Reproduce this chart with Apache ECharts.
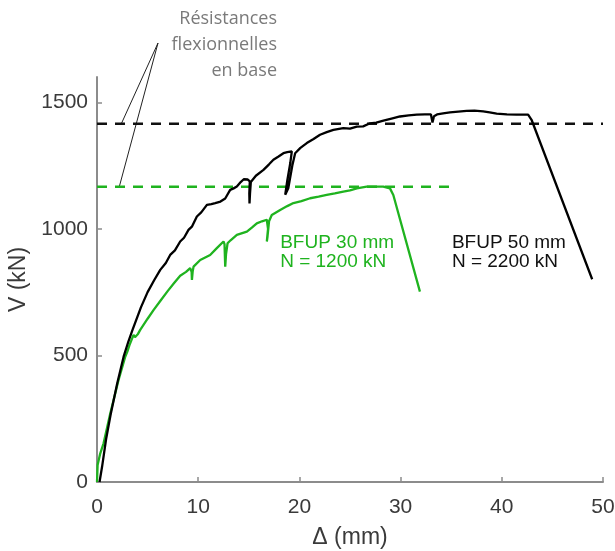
<!DOCTYPE html>
<html>
<head>
<meta charset="utf-8">
<script src="https://cdn.jsdelivr.net/npm/echarts@6/dist/echarts.min.js"></script>
<style>html,body{margin:0;padding:0;background:#fff}#c{width:615px;height:551px}</style>
</head>
<body>
<div id="c"></div>
<script>
// ---- data ----
var xTicks = [0, 10, 20, 30, 40, 50];
var yTicks = [0, 500, 1000, 1500];

var bfup50 = [[0.25,0],[0.5,60],[0.9,170],[1.38,273],[2.0,390],[2.63,495],[3.1,555],[3.51,601],[4.34,690],[5.0,750],[5.66,798],[6.25,838],[6.8,865],[7.23,897],[7.7,915],[8.22,950],[8.6,965],[9.04,996],[9.4,1010],[9.87,1049],[10.3,1065],[10.86,1095],[11.3,1098],[11.68,1102],[12.2,1108],[12.67,1120],[13.16,1154],[13.5,1160],[13.82,1167],[14.2,1185],[14.5,1196],[14.9,1195],[15.1,1188],[15.05,1140],[15.07,1100],[15.12,1140],[15.2,1185],[15.7,1210],[16.45,1233],[17.0,1255],[17.43,1273],[17.9,1285],[18.42,1299],[18.8,1303],[19.25,1306],[19.1,1260],[18.8,1190],[18.6,1135],[18.7,1128],[18.9,1160],[19.3,1250],[19.58,1299],[20.1,1320],[20.73,1339],[21.4,1355],[22.04,1372],[22.7,1382],[23.36,1391],[24.34,1398],[25.0,1396],[25.67,1404],[26.3,1405],[26.98,1417],[27.6,1420],[28.3,1428],[29.1,1436],[29.94,1444],[30.8,1448],[31.6,1451],[32.4,1452],[33.0,1452],[33.15,1420],[33.3,1445],[33.6,1452],[34.2,1456],[34.88,1460],[35.7,1463],[36.52,1466],[37.3,1467],[38.16,1464],[38.8,1460],[39.49,1455],[40.5,1452],[41.46,1451],[42.6,1451],[42.94,1431],[48.93,801]];

var bfup30 = [[0,0],[0.06,67],[0.3,110],[0.65,153],[1.31,271],[2.13,403],[2.79,495],[3.0,515],[3.2,540],[3.61,581],[3.75,572],[3.9,565],[4.05,585],[4.27,601],[5.0,645],[5.6,680],[6.25,715],[7.0,755],[7.6,785],[8.22,815],[8.8,830],[9.21,845],[9.35,830],[9.38,798],[9.45,830],[9.54,851],[10.2,877],[11.18,897],[11.84,924],[12.5,950],[12.6,940],[12.67,851],[12.75,900],[12.9,943],[13.2,955],[13.82,976],[14.81,989],[15.3,1005],[15.79,1022],[16.3,1030],[16.78,1036],[16.95,1040],[16.9,1000],[16.78,950],[16.85,970],[17.0,1030],[17.27,1055],[18.1,1075],[18.8,1090],[19.41,1102],[20.2,1110],[21.06,1121],[21.9,1127],[22.7,1134],[23.5,1140],[24.34,1147],[25.0,1152],[25.67,1160],[26.65,1167],[27.5,1167],[28.29,1167],[28.95,1160],[29.28,1134],[31.91,752]];

var resist50 = [[0,1415],[50,1415]];
var resist30 = [[0,1166],[35,1166]];

var label30 = ['BFUP 30 mm', 'N = 1200 kN'];
var label50 = ['BFUP 50 mm', 'N = 2200 kN'];
var noteText = ['Résistances', 'flexionnelles', 'en base'];

// ---- chart ----
var GREEN = '#1fb31f';
var AXC = '#8c8c8c';
var TXT = '#3a3a3a';
var FONT = 'Liberation Sans';
var chart = echarts.init(document.getElementById('c'), null, {renderer: 'canvas'});

function plain(v) { return String(v); }

var option = {
  animation: false,
  backgroundColor: '#fff',
  grid: {left: 97, right: 12, top: 77, bottom: 69, containLabel: false, outerBoundsMode: 'none'},
  xAxis: {
    type: 'value', min: 0, max: 50, interval: 10,
    axisLine: {lineStyle: {color: AXC, width: 2}},
    axisTick: {inside: true, length: 5, lineStyle: {color: AXC, width: 1.5}, customValues: xTicks},
    axisLabel: {fontSize: 21, color: TXT, fontFamily: FONT, margin: 15, customValues: xTicks, formatter: plain},
    splitLine: {show: false},
    name: 'Δ (mm)', nameLocation: 'middle', nameGap: 44,
    nameTextStyle: {fontSize: 23, color: TXT, fontFamily: FONT}
  },
  yAxis: {
    type: 'value', min: 0, max: 1600, interval: 500,
    axisLine: {show: true, lineStyle: {color: AXC, width: 2}},
    axisTick: {show: true, inside: true, length: 5, lineStyle: {color: AXC, width: 1.5}, customValues: yTicks},
    axisLabel: {fontSize: 21, color: TXT, fontFamily: FONT, margin: 9, customValues: yTicks, formatter: plain},
    splitLine: {show: false},
    name: 'V (kN)', nameLocation: 'middle', nameGap: 58, nameRotate: 90,
    nameTextStyle: {fontSize: 23, color: TXT, fontFamily: FONT}
  },
  series: [
    {type: 'line', data: resist50, symbol: 'none', silent: true,
     lineStyle: {color: '#111', width: 2.5, type: [10, 8]}},
    {type: 'line', data: resist30, symbol: 'none', silent: true,
     lineStyle: {color: GREEN, width: 2.5, type: [10, 8]}},
    {type: 'line', data: bfup30, symbol: 'none', silent: true,
     lineStyle: {color: GREEN, width: 2.3}},
    {type: 'line', data: bfup50, symbol: 'none', silent: true,
     lineStyle: {color: '#000', width: 2.3}}
  ]
};
chart.setOption(option);

var apex = [158, 43];
var p1 = chart.convertToPixel({gridIndex: 0}, [2.4, resist50[0][1]]);
var p2 = chart.convertToPixel({gridIndex: 0}, [2.2, resist30[0][1]]);
var t30 = chart.convertToPixel({gridIndex: 0}, [18.1, 982]);
var t50 = chart.convertToPixel({gridIndex: 0}, [35.07, 982]);

chart.setOption({
  graphic: [
    {type: 'text', x: 277, y: 6,
     style: {text: noteText.join('\n'), align: 'right', verticalAlign: 'top',
       fill: '#7a7a7a', font: '18px "Open Sans"', lineHeight: 26}},
    {type: 'line', shape: {x1: apex[0], y1: apex[1], x2: p1[0], y2: p1[1]}, style: {stroke: '#222', lineWidth: 1}},
    {type: 'line', shape: {x1: apex[0], y1: apex[1], x2: p2[0], y2: p2[1]}, style: {stroke: '#222', lineWidth: 1}},
    {type: 'text', x: t30[0], y: t30[1],
     style: {text: label30.join('\n'), align: 'left', verticalAlign: 'top',
       fill: GREEN, font: '19px "Liberation Sans"', lineHeight: 19}},
    {type: 'text', x: t50[0], y: t50[1],
     style: {text: label50.join('\n'), align: 'left', verticalAlign: 'top',
       fill: '#111', font: '19px "Liberation Sans"', lineHeight: 19}}
  ]
});
</script>
</body>
</html>
